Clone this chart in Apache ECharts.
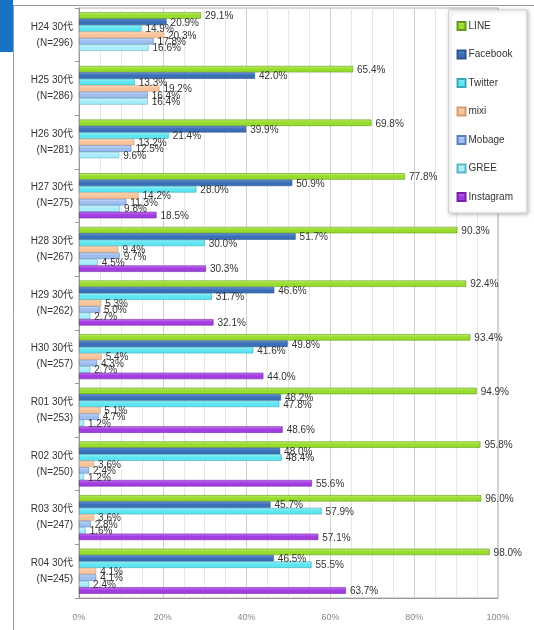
<!DOCTYPE html>
<html>
<head>
<meta charset="utf-8">
<script src="https://cdn.jsdelivr.net/npm/echarts@6/dist/echarts.min.js"></script>
<style>
  html, body { margin: 0; padding: 0; background: #fff; }
  #chart { width: 534px; height: 630px; }
</style>
</head>
<body>
<div id="chart"></div>
<script>
const categories = [
  'H24 30代\n(N=296)', 'H25 30代\n(N=286)', 'H26 30代\n(N=281)', 'H27 30代\n(N=275)',
  'H28 30代\n(N=267)', 'H29 30代\n(N=262)', 'H30 30代\n(N=257)', 'R01 30代\n(N=253)',
  'R02 30代\n(N=250)', 'R03 30代\n(N=247)', 'R04 30代\n(N=245)'
]
const xTicks = [0, 20, 40, 60, 80, 100]

const lineValues      = [29.1, 65.4, 69.8, 77.8, 90.3, 92.4, 93.4, 94.9, 95.8, 96.0, 98.0]
const facebookValues  = [20.9, 42.0, 39.9, 50.9, 51.7, 46.6, 49.8, 48.2, 48.0, 45.7, 46.5]
const twitterValues   = [14.9, 13.3, 21.4, 28.0, 30.0, 31.7, 41.6, 47.8, 48.4, 57.9, 55.5]
const mixiValues      = [20.3, 19.2, 13.2, 14.2, 9.4, 5.3, 5.4, 5.1, 3.6, 3.6, 4.1]
const mobageValues    = [17.8, 16.4, 12.5, 11.3, 9.7, 5.0, 4.3, 4.7, 2.4, 2.8, 4.1]
const greeValues      = [16.6, 16.4, 9.6, 9.8, 4.5, 2.7, 2.7, 1.2, 1.2, 1.6, 2.4]
const instagramValues = [null, null, null, 18.5, 30.3, 32.1, 44.0, 48.6, 55.6, 57.1, 63.7]

const seriesDefs = [
  { name: 'LINE', data: lineValues, color: '#98dc2e', light: '#c4f070', border: '#5e9a18' },
  { name: 'Facebook', data: facebookValues, color: '#3a6fb8', light: '#6f9ad6', border: '#2a558f' },
  { name: 'Twitter', data: twitterValues, color: '#5de6f2', light: '#a6f4fa', border: '#38a9b8' },
  { name: 'mixi', data: mixiValues, color: '#f9c49a', light: '#fde0c8', border: '#d69a6a' },
  { name: 'Mobage', data: mobageValues, color: '#9fbef0', light: '#cfdff8', border: '#5a7fbf' },
  { name: 'GREE', data: greeValues, color: '#a9ecfa', light: '#d6f7fd', border: '#5ab4c8' },
  { name: 'Instagram', data: instagramValues, color: '#a23ee0', light: '#c97cf2', border: '#7420ab' }
]

const chart = echarts.init(document.getElementById('chart'))

const option = {
  backgroundColor: '#fff',
  animation: false,
  textStyle: { fontFamily: 'Liberation Sans, Noto Sans CJK JP, sans-serif' },
  graphic: [
    { type: 'rect', left: 0, top: 0, shape: { width: 13, height: 52 }, style: { fill: '#1a72c6' } },
    { type: 'line', shape: { x1: 13.5, y1: 5, x2: 13.5, y2: 630 }, style: { stroke: '#9a9a9a', lineWidth: 1 } },
    { type: 'line', shape: { x1: 13, y1: 5.5, x2: 534, y2: 5.5 }, style: { stroke: '#9a9a9a', lineWidth: 1 } }
  ],
  legend: {
    orient: 'vertical',
    right: 7,
    top: 10,
    width: 75,
    padding: [11, 14, 11, 8],
    itemWidth: 8,
    itemHeight: 8,
    itemGap: 18.5,
    icon: 'rect',
    backgroundColor: '#fff',
    borderColor: '#d0d0d0',
    borderWidth: 1,
    shadowBlur: 4,
    shadowColor: 'rgba(0,0,0,0.25)',
    shadowOffsetX: 1,
    shadowOffsetY: 1,
    textStyle: { fontSize: 10, color: '#333', padding: [0, 0, 0, -2] },
    data: seriesDefs.map(s => s.name)
  },
  grid: {
    left: 79,
    right: 36,
    top: 8,
    bottom: 32,
    show: true,
    borderColor: '#b0b0b0',
    borderWidth: 1,
    containLabel: false
  },
  xAxis: {
    type: 'value',
    min: 0,
    max: 100,
    interval: 20,
    axisLine: { show: true, lineStyle: { color: '#999' } },
    axisTick: { show: false },
    axisLabel: {
      color: '#888',
      fontSize: 9,
      margin: 15,
      formatter: v => xTicks.includes(v) ? v + '%' : ''
    },
    splitLine: { show: true, lineStyle: { color: '#cfcfcf' } },
    minorTick: { show: false, splitNumber: 4 },
    minorSplitLine: { show: true, lineStyle: { color: '#e6e6e6' } }
  },
  yAxis: {
    type: 'category',
    inverse: true,
    data: categories,
    axisLine: { show: true, lineStyle: { color: '#999' } },
    axisTick: { show: true, length: 4, lineStyle: { color: '#999' } },
    axisLabel: { color: '#333', fontSize: 10, lineHeight: 16, margin: 6, align: 'right' }
  },
  series: seriesDefs.map(s => ({
    name: s.name,
    type: 'bar',
    data: s.data,
    barGap: '0%',
    barCategoryGap: '16%',
    itemStyle: {
      color: new echarts.graphic.LinearGradient(0, 0, 0, 1, [
        { offset: 0, color: s.light },
        { offset: 0.45, color: s.color },
        { offset: 1, color: s.color }
      ]),
      borderColor: s.border,
      borderWidth: 0.6
    },
    label: {
      show: true,
      position: 'right',
      distance: 4,
      offset: [0, 1],
      fontSize: 10,
      color: '#333',
      formatter: p => p.value == null ? '' : p.value.toFixed(1) + '%'
    }
  })),
  color: seriesDefs.map(s => s.color)
}

chart.setOption(option)
</script>
</body>
</html>
